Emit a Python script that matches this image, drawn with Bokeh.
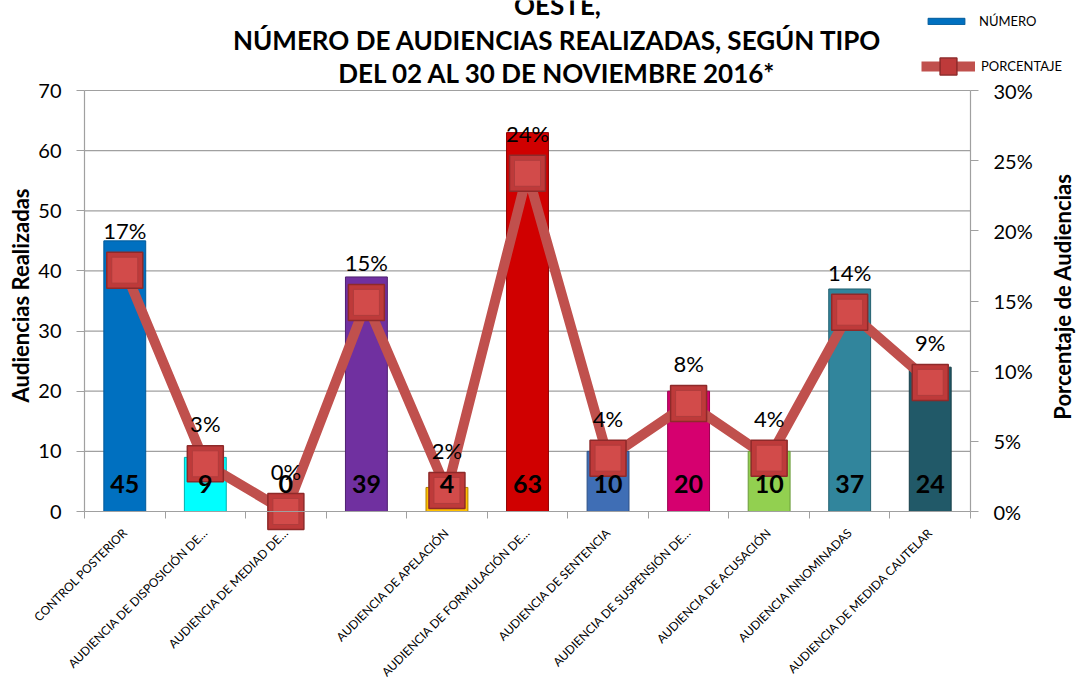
import numpy as np
from math import pi
from bokeh.plotting import figure
from bokeh.models import (ColumnDataSource, Range1d, LinearAxis, FixedTicker,
                          PrintfTickFormatter, Label, Legend, LegendItem)
from bokeh.core.properties import value
from bokeh.embed import file_html
from bokeh.resources import INLINE

categories = [
    "CONTROL POSTERIOR",
    "AUDIENCIA DE DISPOSICIÓN DE…",
    "AUDIENCIA DE MEDIAD DE…",
    "",
    "AUDIENCIA DE APELACIÓN",
    "AUDIENCIA DE FORMULACIÓN DE…",
    "AUDIENCIA DE SENTENCIA",
    "AUDIENCIA DE SUSPENSIÓN DE…",
    "AUDIENCIA DE ACUSACIÓN",
    "AUDIENCIA INNOMINADAS",
    "AUDIENCIA DE MEDIDA CAUTELAR",
]
numbers = [45, 9, 0, 39, 4, 63, 10, 20, 10, 37, 24]
percentages = [17.2, 3.4, 0.0, 14.9, 1.5, 24.1, 3.8, 7.7, 3.8, 14.2, 9.2]
bar_colors = ["#0070C0", "#00FFFF", "#A6A6A6", "#7030A0", "#FFC000", "#D00000",
              "#3F6EB5", "#D6006F", "#92D050", "#31859C", "#215968"]
bar_edges = ["#005A9A", "#00B0B0", "#808080", "#4E2070", "#B08000", "#900000",
             "#2C4F85", "#9A0050", "#6A9A3A", "#236070", "#163E48"]
left_ticks = [0, 10, 20, 30, 40, 50, 60, 70]
right_ticks = [0, 5, 10, 15, 20, 25, 30]
title_lines = ["OESTE,", "NÚMERO DE AUDIENCIAS REALIZADAS, SEGÚN TIPO",
               "DEL 02 AL 30 DE NOVIEMBRE 2016*"]
left_title = "Audiencias Realizadas"
right_title = "Porcentaje de Audiencias"
legend_labels = ["NÚMERO", "PORCENTAJE"]

FONT = "Lato"
GRID = "#A0A0A0"
W, H = 1076, 680
# plot-area box on the canvas (pixels): left, right, top, bottom
PL, PR, PT, PB = 84, 970, 90, 511

n = len(numbers)
xs = np.arange(n) + 0.5
src = ColumnDataSource(dict(
    x=xs, n=numbers, pct=percentages, color=bar_colors, edge=bar_edges,
    nlab=[str(v) for v in numbers],
    plab=[f"{p:.0f}%" for p in percentages],
))

ymax, pmax = left_ticks[-1], right_ticks[-1]
pxu = (PR - PL) / n
pyu = (PB - PT) / ymax
x_range = Range1d(-PL / pxu, n + (W - PR) / pxu)
y_lo = -(H - PB) / pyu
y_hi = ymax + PT / pyu
y_range = Range1d(y_lo, y_hi)
p_range = Range1d(y_lo * pmax / ymax, y_hi * pmax / ymax)

p = figure(width=W, height=H, x_range=x_range, y_range=y_range,
           output_backend="svg", toolbar_location=None,
           min_border_left=0, min_border_right=0, min_border_top=0,
           min_border_bottom=0)
p.outline_line_color = None
p.background_fill_color = "white"
p.border_fill_color = "white"
p.extra_y_ranges = {"pct": p_range}
p.grid.visible = False

# horizontal gridlines across the plot area only
p.segment(x0=0, x1=n, y0=left_ticks[1:], y1=left_ticks[1:], line_color=GRID, line_width=1.2)

xa = p.xaxis[0]
xa.fixed_location = 0
xa.bounds = (0, n)
xa.ticker = FixedTicker(ticks=list(xs), minor_ticks=list(range(n + 1)))
xa.major_label_overrides = {float(x): c for x, c in zip(xs, categories)}
xa.major_tick_line_color = None
xa.major_tick_out = 0
xa.major_tick_in = 0
xa.minor_tick_in = 0
xa.minor_tick_out = 7
xa.minor_tick_line_color = GRID
xa.axis_line_color = GRID
xa.axis_line_width = 1.2
xa.major_label_orientation = pi / 4
xa.major_label_text_font = FONT
xa.major_label_text_font_size = "12px"
xa.major_label_text_color = "black"
xa.major_label_standoff = 12

ya = p.yaxis[0]
ya.fixed_location = 0
ya.bounds = (0, ymax)
ya.ticker = FixedTicker(ticks=left_ticks)
ya.major_tick_out = 8
ya.major_tick_in = 0
ya.minor_tick_line_color = None
ya.axis_line_color = GRID
ya.major_tick_line_color = GRID
ya.axis_line_width = 1.2
ya.major_label_text_font = FONT
ya.major_label_text_font_size = "20px"
ya.major_label_text_color = "black"
ya.major_label_standoff = 15

ra = LinearAxis(y_range_name="pct", ticker=FixedTicker(ticks=right_ticks),
                formatter=PrintfTickFormatter(format="%d%%"))
ra.fixed_location = n
ra.bounds = (0, pmax)
ra.major_tick_out = 8
ra.major_tick_in = 0
ra.minor_tick_line_color = None
ra.axis_line_color = GRID
ra.major_tick_line_color = GRID
ra.axis_line_width = 1.2
ra.major_label_text_font = FONT
ra.major_label_text_font_size = "20px"
ra.major_label_text_color = "black"
ra.major_label_standoff = 15
p.add_layout(ra, "right")

bars = p.vbar(x="x", top="n", bottom=0, width=0.52, fill_color="color",
              line_color="edge", line_width=1, source=src)

line = p.line(x="x", y="pct", y_range_name="pct", line_width=10,
              line_color="#C0504D", source=src)
marks = p.scatter(x="x", y="pct", y_range_name="pct", marker="square", size=36,
                  fill_color="#BE3A3A", line_color="#8E2A2A", line_width=1.5, source=src)
p.scatter(x="x", y="pct", y_range_name="pct", marker="square", size=26,
          fill_color="#D24B4A", line_color="#B03C3C", line_width=1, source=src)

p.text(x="x", y="pct", text="plab", y_range_name="pct", y_offset=-40,
       text_align="center", text_baseline="middle", text_font=value(FONT),
       text_font_size="22px", text_color="black", source=src)
p.text(x="x", y=0, text="nlab", y_offset=-28, text_align="center",
       text_baseline="middle", text_font=value(FONT), text_font_style="bold",
       text_font_size="25px", text_color="black", source=src)

# screen coords relative to the frame, which fills the canvas (y measured up from bottom)
for txt, py in zip(title_lines, [4, 39, 72]):
    p.add_layout(Label(x=557, y=H - py, x_units="screen", y_units="screen", text=txt,
                       text_align="center", text_baseline="middle", text_font=FONT,
                       text_font_style="bold", text_font_size="26px", text_color="black"))

p.add_layout(Label(x=20, y=H - 295, x_units="screen", y_units="screen", text=left_title,
                   angle=pi / 2, text_align="center", text_baseline="middle",
                   text_font=FONT, text_font_style="bold", text_font_size="22px",
                   text_color="black"))
p.add_layout(Label(x=1062, y=H - 296, x_units="screen", y_units="screen", text=right_title,
                   angle=pi / 2, text_align="center", text_baseline="middle",
                   text_font=FONT, text_font_style="bold", text_font_size="22px",
                   text_color="black"))

leg1 = Legend(items=[LegendItem(label=legend_labels[0], renderers=[bars], index=0)],
              location=(923, H - 29), glyph_width=46, glyph_height=8, label_height=16,
              label_standoff=10, padding=0, margin=0, spacing=0)
leg2 = Legend(items=[LegendItem(label=legend_labels[1], renderers=[line, marks])],
              location=(921, H - 87), glyph_width=54, glyph_height=42, label_height=16,
              label_standoff=6, padding=0, margin=0, spacing=0)
for lg in (leg1, leg2):
    lg.border_line_color = None
    lg.background_fill_alpha = 0
    lg.label_text_font = FONT
    lg.label_text_font_size = "13px"
    lg.label_text_color = "black"
    p.add_layout(lg, "center")

open("out.html", "w").write(file_html(p, INLINE))
